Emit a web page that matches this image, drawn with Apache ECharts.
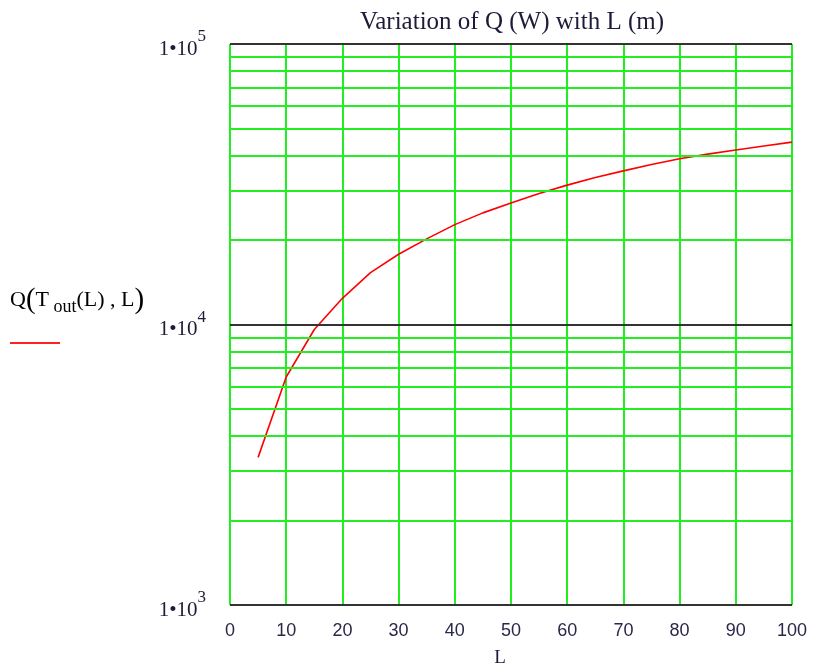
<!DOCTYPE html>
<html>
<head>
<meta charset="utf-8">
<script src="https://cdn.jsdelivr.net/npm/echarts@6/dist/echarts.min.js"></script>
<style>
  html, body { margin: 0; padding: 0; background: #ffffff; }
  #chart { width: 815px; height: 663px; }
</style>
</head>
<body>
<div id="chart"></div>
<script>
// Pipe length L (m) and heat transfer rate Q (W)
const lengths = [5, 10, 15, 20, 25, 30, 35, 40, 45, 50, 55, 60, 65, 70, 75, 80, 85, 90, 95, 100];
const heatRate = [3360, 6500, 9600, 12400, 15300, 17800, 20200, 22700, 25000, 27100,
                  29300, 31400, 33400, 35300, 37200, 39000, 40500, 41900, 43300, 44700];

// Horizontal grid: decades in black, intermediate log steps in green
const decadeLines = [1000, 10000, 100000];
const minorLines = [2000, 3000, 4000, 5000, 6000, 7000, 8000, 9000,
                    20000, 30000, 40000, 50000, 60000, 70000, 80000, 90000];
const xTicks = [0, 10, 20, 30, 40, 50, 60, 70, 80, 90, 100];

const GREEN = '#22ee22';
const DARK = '#333333';
const TEXT = '#1e1a38';
const SERIF = '"Liberation Serif", "Times New Roman", serif';
const SANS = '"Liberation Sans", Tahoma, sans-serif';

const chart = echarts.init(document.getElementById('chart'), null, { renderer: 'canvas' });

const option = {
  animation: false,
  backgroundColor: '#ffffff',
  title: {
    text: 'Variation of Q (W) with L (m)',
    left: 507,
    textAlign: 'center',
    top: 5,
    textStyle: { fontFamily: SERIF, fontSize: 25, fontWeight: 'normal', color: TEXT }
  },
  grid: { left: 230, top: 44, width: 562, height: 561, containLabel: false, outerBoundsMode: 'none' },
  xAxis: {
    type: 'value',
    min: xTicks[0],
    max: xTicks[xTicks.length - 1],
    interval: 10,
    name: 'L',
    nameLocation: 'middle',
    nameGap: 44,
    nameTextStyle: { fontFamily: SERIF, fontSize: 19, color: TEXT, padding: [0, 22, 0, 0] },
    axisLine: { show: false },
    axisTick: { show: false },
    axisLabel: { margin: 17, fontFamily: SANS, fontSize: 18, color: '#2a2848' },
    splitLine: { show: true, lineStyle: { color: GREEN, width: 2 } }
  },
  yAxis: {
    type: 'log',
    logBase: 10,
    min: decadeLines[0],
    max: decadeLines[decadeLines.length - 1],
    axisLine: { show: false },
    axisTick: { show: false },
    splitLine: { show: false },
    minorTick: { show: false },
    axisLabel: {
      margin: 24,
      formatter: function (v) {
        const e = Math.round(Math.log10(v));
        return '{b|1•10}{e|' + e + '}';
      },
      rich: {
        b: { fontFamily: SERIF, fontSize: 21, color: TEXT, verticalAlign: 'bottom', lineHeight: 31, padding: [4, 0, 0, 0] },
        e: { fontFamily: SERIF, fontSize: 17, color: TEXT, verticalAlign: 'top', lineHeight: 4 }
      }
    }
  },
  graphic: [
    {
      type: 'text',
      left: 10,
      top: 286,
      style: {
        text: '{q|Q}{P|(}{t|T}{s| out}{p|(L) , L}{P|)}',
        rich: {
          q: { fontFamily: SERIF, fontSize: 22, color: '#1e2a6a', verticalAlign: 'middle' },
          P: { fontFamily: SERIF, fontSize: 29, color: TEXT, verticalAlign: 'middle' },
          p: { fontFamily: SERIF, fontSize: 22, color: TEXT, verticalAlign: 'middle' },
          t: { fontFamily: SERIF, fontSize: 22, color: '#3a1a5a', verticalAlign: 'middle' },
          s: { fontFamily: SERIF, fontSize: 18, color: '#1e2a6a', padding: [14, 0, 0, 0], verticalAlign: 'middle' }
        }
      }
    },
    {
      type: 'line',
      shape: { x1: 10, y1: 343, x2: 60, y2: 343 },
      style: { stroke: '#ff2020', lineWidth: 2 }
    }
  ],
  series: [
    {
      name: 'minor grid',
      type: 'line',
      data: [],
      z: 1,
      silent: true,
      markLine: {
        silent: true,
        symbol: ['none', 'none'],
        label: { show: false },
        lineStyle: { color: GREEN, width: 2, type: 'solid' },
        data: minorLines.map(v => ({ yAxis: v }))
      }
    },
    {
      name: 'decade grid',
      type: 'line',
      data: [],
      z: 2,
      silent: true,
      markLine: {
        silent: true,
        symbol: ['none', 'none'],
        label: { show: false },
        lineStyle: { color: DARK, width: 2, type: 'solid' },
        data: decadeLines.map(v => ({ yAxis: v }))
      }
    },
    {
      name: 'Q',
      type: 'line',
      z: 3,
      data: lengths.map((L, i) => [L, heatRate[i]]),
      showSymbol: false,
      smooth: false,
      lineStyle: { color: '#ff0000', width: 1.6 }
    }
  ]
};

chart.setOption(option);
</script>
</body>
</html>
